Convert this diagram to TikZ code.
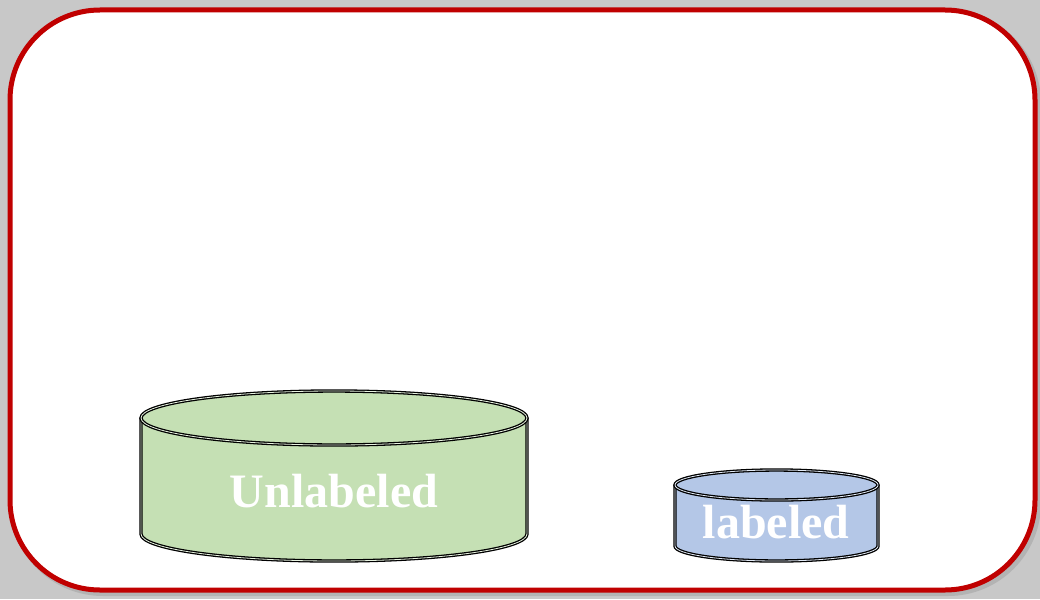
\documentclass[tikz,border=0pt]{standalone}
\usepackage{fontspec}
\setmainfont{Liberation Serif}
\definecolor{pagegray}{HTML}{C8C8C8}
\definecolor{borderred}{HTML}{C00000}
\definecolor{poolgreen}{HTML}{C5E0B4}
\definecolor{poolblue}{HTML}{B4C7E7}
\begin{document}
\begin{tikzpicture}[
        x=1pt, y=-1pt,
        frame/.style={draw=borderred, line width=5pt, fill=white, rounded corners=90pt}, % rahmen
        shade/.style={draw=black!35, line width=6pt, rounded corners=90pt, opacity=0.6},
        drum/.style={draw=black, line width=1.3pt, double distance=0.8pt},
        tag/.style={text=white, inner sep=0pt, font=\bfseries\fontsize{48}{50}\selectfont},
    ]

    \useasboundingbox[fill=pagegray] (0,0) rectangle (1040,599);
    \draw[shade] (13,13) rectangle (1038,593);
    \draw[frame] (10,10) rectangle (1035,590);

    % grosser Topf
    \fill[poolgreen] (141,418) -- (141,534) arc[start angle=180, end angle=360, x radius=193pt, y radius=27pt] -- (527,418) -- cycle;
    \draw[drum, double=poolgreen!40!white] (141,418) -- (141,534) arc[start angle=180, end angle=360, x radius=193pt, y radius=27pt] -- (527,418);
    \draw[drum, double=poolgreen!40!white, fill=poolgreen] (334,418) ellipse[x radius=193pt, y radius=27pt];

    % kleiner Topf
    \fill[poolblue] (675,485) -- (675,546) arc[start angle=180, end angle=360, x radius=101.5pt, y radius=15pt] -- (878,485) -- cycle;
    \draw[drum, double=poolblue!40!white] (675,485) -- (675,546) arc[start angle=180, end angle=360, x radius=101.5pt, y radius=15pt] -- (878,485);
    \draw[drum, double=poolblue!40!white, fill=poolblue] (776.5,485) ellipse[x radius=101.5pt, y radius=15pt];

    \node[tag] (unlab) at (334,491) {Unlabeled};
    \node[tag] (lab) at (776,522) {labeled};
\end{tikzpicture}
\end{document}
